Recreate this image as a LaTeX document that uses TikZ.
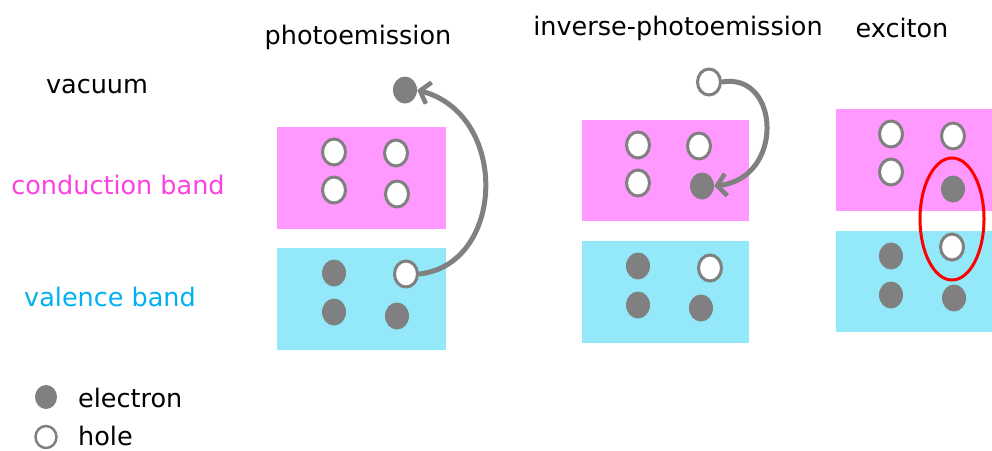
\documentclass[tikz,border=0pt]{standalone}
\usepackage{fontspec}
\setmainfont{DejaVu Sans}
\usetikzlibrary{shapes.geometric,arrows.meta}
\definecolor{pinkfill}{RGB}{255,153,255}
\definecolor{cyanfill}{RGB}{147,233,249}
\definecolor{condtext}{RGB}{255,64,224}
\definecolor{valtext}{RGB}{0,176,240}
\definecolor{dotgray}{RGB}{128,128,128}
\tikzset{
  elec/.style={ellipse,fill=dotgray,minimum width=24pt,minimum height=27pt,inner sep=0pt},
  hole/.style={ellipse,fill=white,draw=dotgray,line width=3pt,minimum width=23pt,minimum height=26pt,inner sep=0pt},
  pinkband/.style={fill=pinkfill},
  cyanband/.style={fill=cyanfill},
  lbl/.style={font=\fontsize{25.5}{28}\selectfont,inner sep=0pt},
  trans/.style={draw=dotgray,line width=5pt,-{Straight Barb[length=9pt,width=22pt,line width=4.5pt]}},
}
\begin{document}
\begin{tikzpicture}[x=1pt,y=-1pt]
\useasboundingbox (0,0) rectangle (992,450);
% labels
\node[lbl] (tvac) at (97,87) {vacuum};
\node[lbl,text=condtext] (tcond) at (118,185) {conduction band};
\node[lbl,text=valtext] (tval) at (110,297) {valence band};
\node[lbl] (tphoto) at (358,37) {photoemission};
\node[lbl] (tinv) at (678,28) {inverse-photoemission};
\node[lbl] (texc) at (902,28) {exciton};
% panel 1
\fill[pinkband] (277,127) rectangle (446,229);
\fill[cyanband] (277,248) rectangle (446,350);
\node[hole] (a1) at (334,152) {};
\node[hole] (a2) at (396,153) {};
\node[hole] (a3) at (334,190) {};
\node[hole] (a4) at (397,194) {};
\node[elec] (a5) at (334,273) {};
\node[hole] (a6) at (406,274) {};
\node[elec] (a7) at (334,312) {};
\node[elec] (a8) at (397,316) {};
\node[elec] (a0) at (405,90) {};
\draw[trans] (a6.east) .. controls (505,265) and (510,115) .. (a0.east);
% panel 2
\fill[pinkband] (582,120) rectangle (749,221);
\fill[cyanband] (582,241) rectangle (749,343);
\node[hole] (b1) at (638,145) {};
\node[hole] (b2) at (699,146) {};
\node[hole] (b3) at (638,183) {};
\node[elec] (b4) at (702,186) {};
\node[elec] (b5) at (638,266) {};
\node[hole] (b6) at (710,268) {};
\node[elec] (b7) at (638,305) {};
\node[elec] (b8) at (701,308) {};
\node[hole] (b0) at (709,82) {};
\draw[trans] (b0.east) .. controls (780,72) and (785,178) .. (b4.east);
% panel 3
\fill[pinkband] (836,109) rectangle (992,211);
\fill[cyanband] (836,231) rectangle (992,332);
\node[hole] (c1) at (891,134) {};
\node[hole] (c2) at (953,136) {};
\node[hole] (c3) at (891,172) {};
\node[elec] (c4) at (953,189) {};
\node[hole] (c5) at (952,247) {};
\node[elec] (c6) at (891,256) {};
\node[elec] (c7) at (891,295) {};
\node[elec] (c8) at (954,298) {};
\node[ellipse,draw=red,line width=3pt,minimum width=64pt,minimum height=122pt,inner sep=0pt] (ex) at (952,219) {};
% legend
\node[elec,minimum width=22pt,minimum height=24pt] (le) at (46,397) {};
\node[lbl,anchor=west] (lte) at (78,398) {electron};
\node[hole,line width=2.5pt,minimum width=21pt,minimum height=22pt] (lh) at (46,437) {};
\node[lbl,anchor=west] (lth) at (78,436) {hole};
\end{tikzpicture}
\end{document}
